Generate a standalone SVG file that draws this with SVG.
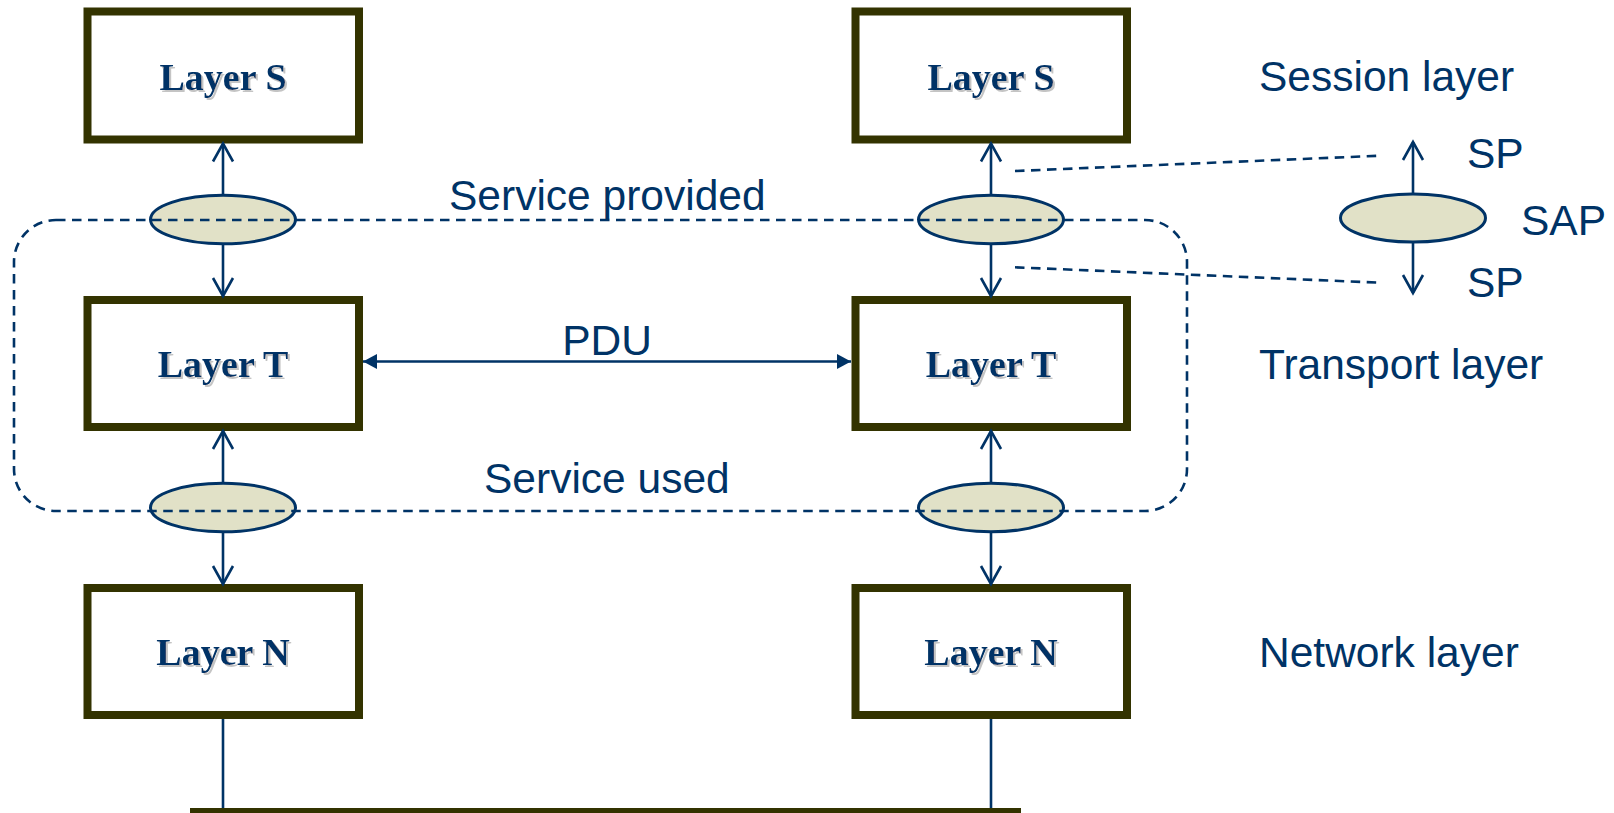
<svg xmlns="http://www.w3.org/2000/svg" width="1614" height="813" viewBox="0 0 1614 813">
<style>
  .box { fill: #ffffff; stroke: #333300; stroke-width: 8; }
  .sap { fill: #E1E1C7; stroke: #003366; stroke-width: 3; }
  .ln { stroke: #003366; stroke-width: 2.6; fill: none; }
  .dash { stroke: #003366; stroke-width: 2.6; fill: none; stroke-dasharray: 9.5 6.5; }
  .lt { font-family: "Liberation Serif", "Times New Roman", serif; font-weight: bold; font-size: 38px; fill: #003366; text-anchor: middle; filter: url(#shadow); }
  .lab { font-family: "Liberation Sans", Arial, sans-serif; font-size: 42.5px; fill: #003366; }
</style>
<defs>
  <marker id="open" markerUnits="userSpaceOnUse" viewBox="0 0 22 24" refX="19" refY="12" markerWidth="22" markerHeight="24" orient="auto-start-reverse">
    <path d="M1,2 L19,12 L1,22" fill="none" stroke="#003366" stroke-width="2.6"/>
  </marker>
  <marker id="solid" markerUnits="userSpaceOnUse" viewBox="0 0 15 16" refX="14" refY="8" markerWidth="15" markerHeight="16" orient="auto-start-reverse">
    <path d="M0,0.5 L14,8 L0,15.5 z" fill="#003366"/>
  </marker>
  <filter id="shadow" x="-10%" y="-20%" width="130%" height="150%">
    <feOffset in="SourceAlpha" dx="2" dy="2" result="off"/>
    <feFlood flood-color="#c4c4c4"/>
    <feComposite in2="off" operator="in" result="sh"/>
    <feMerge><feMergeNode in="sh"/><feMergeNode in="SourceGraphic"/></feMerge>
  </filter>
</defs>
<rect width="1614" height="813" fill="#ffffff"/>

<g id="nodes">
  <g id="layer-s-left"><rect class="box" x="87.5" y="11.5" width="271.5" height="128"/><text class="lt" x="223" y="90">Layer S</text></g>
  <g id="layer-s-right"><rect class="box" x="855.5" y="11.5" width="271.5" height="128"/><text class="lt" x="991" y="90">Layer S</text></g>
  <g id="layer-t-left"><rect class="box" x="87.5" y="300" width="271.5" height="127"/><text class="lt" x="223" y="377">Layer T</text></g>
  <g id="layer-t-right"><rect class="box" x="855.5" y="300" width="271.5" height="127"/><text class="lt" x="991" y="377">Layer T</text></g>
  <g id="layer-n-left"><rect class="box" x="87.5" y="588" width="271.5" height="127"/><text class="lt" x="223" y="665">Layer N</text></g>
  <g id="layer-n-right"><rect class="box" x="855.5" y="588" width="271.5" height="127"/><text class="lt" x="991" y="665">Layer N</text></g>
  <g id="medium"><line x1="190" y1="812" x2="1021" y2="812" stroke="#333300" stroke-width="8"/></g>
  <g id="sap-s-left"><ellipse class="sap" cx="223" cy="219.5" rx="72.5" ry="24.3"/></g>
  <g id="sap-s-right"><ellipse class="sap" cx="991" cy="219.5" rx="72.5" ry="24.3"/></g>
  <g id="sap-n-left"><ellipse class="sap" cx="223" cy="507.5" rx="72.5" ry="24.3"/></g>
  <g id="sap-n-right"><ellipse class="sap" cx="991" cy="507.5" rx="72.5" ry="24.3"/></g>
  <g id="sap-legend"><ellipse class="sap" cx="1413" cy="218" rx="72.5" ry="24"/></g>
</g>

<g id="connectors">
  <line class="ln" x1="223" y1="195" x2="223" y2="143.5" marker-end="url(#open)"/>
  <line class="ln" x1="223" y1="244" x2="223" y2="296" marker-end="url(#open)"/>
  <line class="ln" x1="223" y1="483" x2="223" y2="431" marker-end="url(#open)"/>
  <line class="ln" x1="223" y1="532" x2="223" y2="584" marker-end="url(#open)"/>
  <line class="ln" x1="991" y1="195" x2="991" y2="143.5" marker-end="url(#open)"/>
  <line class="ln" x1="991" y1="244" x2="991" y2="296" marker-end="url(#open)"/>
  <line class="ln" x1="991" y1="483" x2="991" y2="431" marker-end="url(#open)"/>
  <line class="ln" x1="991" y1="532" x2="991" y2="584" marker-end="url(#open)"/>
  <line class="ln" x1="1413" y1="194" x2="1413" y2="142" marker-end="url(#open)"/>
  <line class="ln" x1="1413" y1="242" x2="1413" y2="293" marker-end="url(#open)"/>
  <line class="ln" x1="223" y1="719" x2="223" y2="808" stroke-width="2.2"/>
  <line class="ln" x1="991" y1="719" x2="991" y2="808" stroke-width="2.2"/>
  <line class="ln" x1="363" y1="361.5" x2="851" y2="361.5" marker-start="url(#solid)" marker-end="url(#solid)"/>
  <path class="dash" d="M56,220 H1145 A42,42 0 0 1 1187,262 V469 A42,42 0 0 1 1145,511 H56 A42,42 0 0 1 14,469 V262 A42,42 0 0 1 56,220 Z"/>
  <line class="dash" x1="1015" y1="171" x2="1380" y2="155.7"/>
  <line class="dash" x1="1015" y1="267.3" x2="1380" y2="282.7"/>
</g>

<g id="labels">
  <text class="lab" x="607" y="355" text-anchor="middle">PDU</text>
  <text class="lab" x="449" y="210">Service provided</text>
  <text class="lab" x="484" y="493">Service used</text>
  <text class="lab" x="1259" y="90.5">Session layer</text>
  <text class="lab" x="1259" y="379">Transport layer</text>
  <text class="lab" x="1259" y="666.5">Network layer</text>
  <text class="lab" x="1467" y="168">SP</text>
  <text class="lab" x="1521" y="235">SAP</text>
  <text class="lab" x="1467" y="296.5">SP</text>
</g>
</svg>
